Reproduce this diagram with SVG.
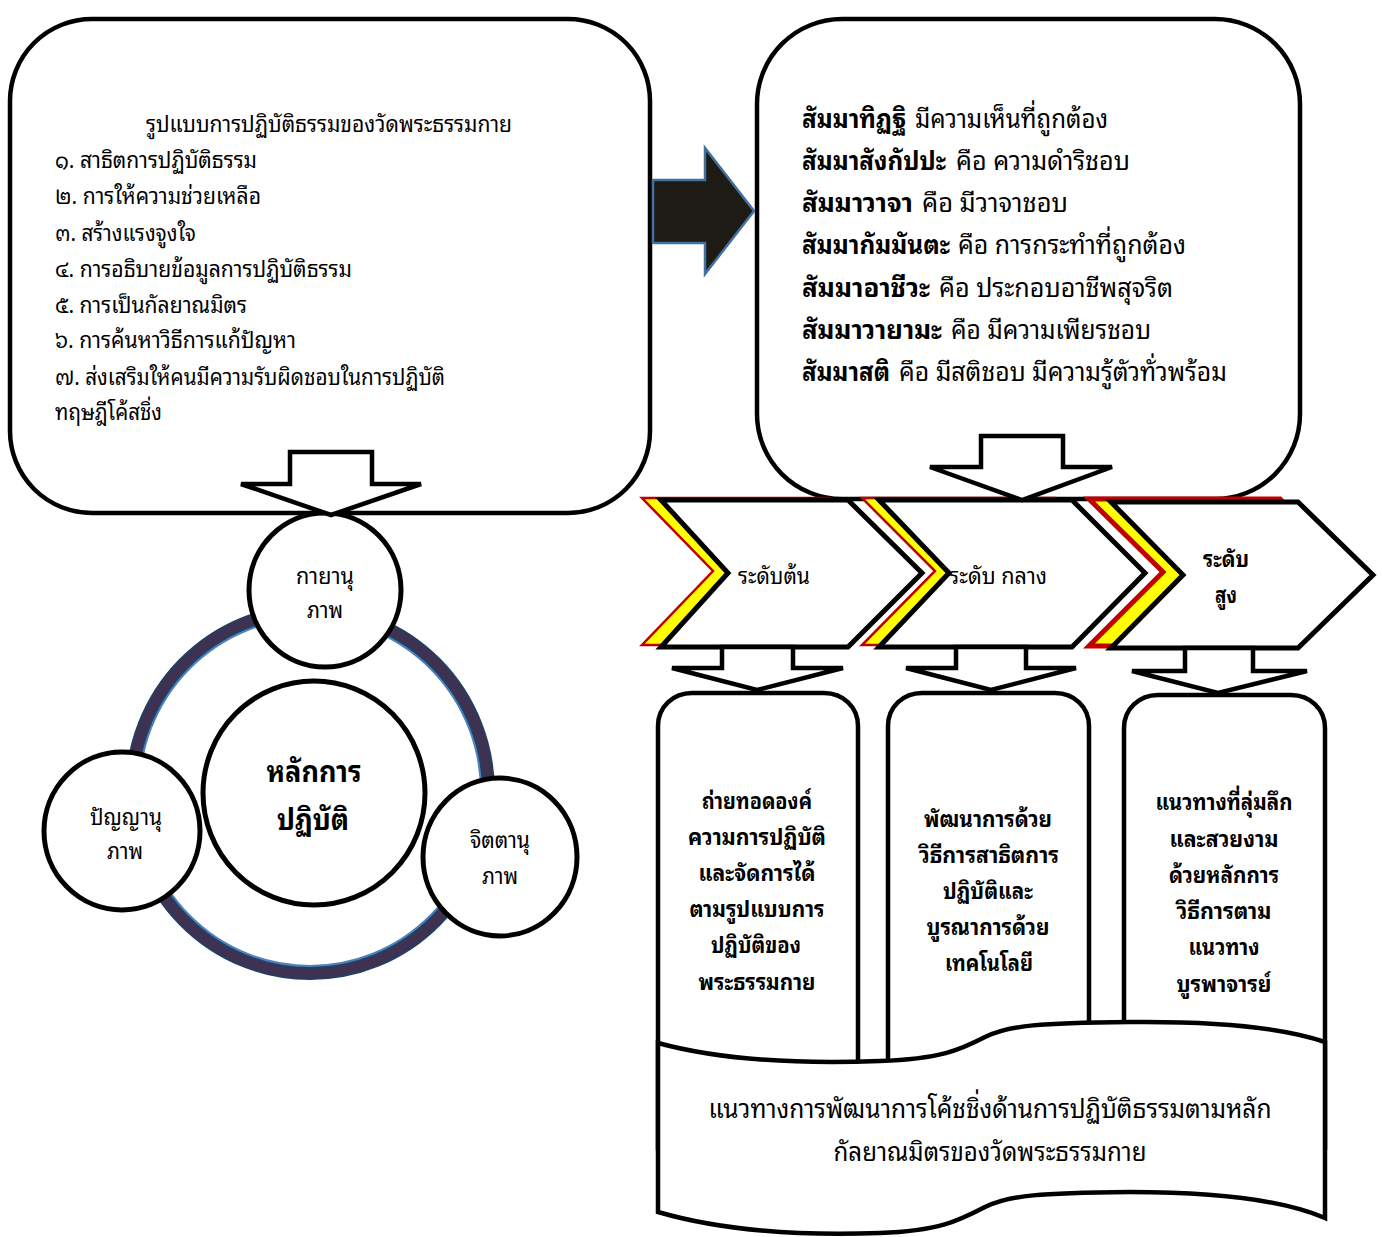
<svg xmlns="http://www.w3.org/2000/svg" width="1382" height="1237" viewBox="0 0 1382 1237">
<style>
  text { font-family: "Noto Sans Thai Looped", "Loma", "Garuda", "Noto Sans Thai", "Noto Sans", "DejaVu Sans", sans-serif; fill: #000; }
  .box { fill: #fff; stroke: #000; stroke-width: 4.5; }
  .arr { fill: #fff; stroke: #000; stroke-width: 4.5; stroke-linejoin: miter; }
  .cir { fill: #fff; stroke: #000; stroke-width: 5; }
  .chev { fill: #fff; stroke: #000; stroke-width: 5; stroke-linejoin: miter; }
  .chevc { fill: #ffff00; stroke: #c00000; stroke-width: 2.5; }
  .t20 { font-size: 22px; }
  .t24 { font-size: 26px; }
  .b { font-weight: bold; }
  .mid { text-anchor: middle; }
</style>
<rect width="1382" height="1237" fill="#fff"/>

<g id="box-practice">
  <rect class="box" x="10" y="19" width="640" height="494" rx="82" ry="82"/>
  <text class="t20 mid" x="329" y="132" textLength="366" lengthAdjust="spacingAndGlyphs">รูปแบบการปฏิบัติธรรมของวัดพระธรรมกาย</text>
  <text class="t20" x="55" y="168" textLength="202" lengthAdjust="spacingAndGlyphs">๑. สาธิตการปฏิบัติธรรม</text>
  <text class="t20" x="55" y="204" textLength="206" lengthAdjust="spacingAndGlyphs">๒. การให้ความช่วยเหลือ</text>
  <text class="t20" x="55" y="241" textLength="141" lengthAdjust="spacingAndGlyphs">๓. สร้างแรงจูงใจ</text>
  <text class="t20" x="55" y="277" textLength="297" lengthAdjust="spacingAndGlyphs">๔. การอธิบายข้อมูลการปฏิบัติธรรม</text>
  <text class="t20" x="55" y="313" textLength="192" lengthAdjust="spacingAndGlyphs">๕. การเป็นกัลยาณมิตร</text>
  <text class="t20" x="55" y="348" textLength="241" lengthAdjust="spacingAndGlyphs">๖. การค้นหาวิธีการแก้ปัญหา</text>
  <text class="t20" x="55" y="385" textLength="390" lengthAdjust="spacingAndGlyphs">๗. ส่งเสริมให้คนมีความรับผิดชอบในการปฏิบัติ</text>
  <text class="t20" x="55" y="420" textLength="107" lengthAdjust="spacingAndGlyphs">ทฤษฎีโค้สชิ่ง</text>
</g>

<g id="box-path">
  <rect class="box" x="757" y="19" width="543" height="480" rx="85" ry="85"/>
  <text class="t24 b" x="802" y="128" textLength="104" lengthAdjust="spacingAndGlyphs">สัมมาทิฏฐิ</text>
  <text class="t24" x="915" y="128" textLength="193" lengthAdjust="spacingAndGlyphs">มีความเห็นที่ถูกต้อง</text>
  <text class="t24 b" x="802" y="170" textLength="144" lengthAdjust="spacingAndGlyphs">สัมมาสังกัปปะ</text>
  <text class="t24" x="956" y="170" textLength="174" lengthAdjust="spacingAndGlyphs">คือ ความดำริชอบ</text>
  <text class="t24 b" x="802" y="212" textLength="111" lengthAdjust="spacingAndGlyphs">สัมมาวาจา</text>
  <text class="t24" x="922" y="212" textLength="146" lengthAdjust="spacingAndGlyphs">คือ มีวาจาชอบ</text>
  <text class="t24 b" x="802" y="254" textLength="148" lengthAdjust="spacingAndGlyphs">สัมมากัมมันตะ</text>
  <text class="t24" x="958" y="254" textLength="228" lengthAdjust="spacingAndGlyphs">คือ การกระทำที่ถูกต้อง</text>
  <text class="t24 b" x="802" y="297" textLength="128" lengthAdjust="spacingAndGlyphs">สัมมาอาชีวะ</text>
  <text class="t24" x="939" y="297" textLength="234" lengthAdjust="spacingAndGlyphs">คือ ประกอบอาชีพสุจริต</text>
  <text class="t24 b" x="802" y="339" textLength="140" lengthAdjust="spacingAndGlyphs">สัมมาวายามะ</text>
  <text class="t24" x="951" y="339" textLength="200" lengthAdjust="spacingAndGlyphs">คือ มีความเพียรชอบ</text>
  <text class="t24 b" x="802" y="381" textLength="88" lengthAdjust="spacingAndGlyphs">สัมมาสติ</text>
  <text class="t24" x="899" y="381" textLength="328" lengthAdjust="spacingAndGlyphs">คือ มีสติชอบ มีความรู้ตัวทั่วพร้อม</text>
</g>

<g id="ring">
  <ellipse cx="310" cy="792" rx="178" ry="181" fill="none" stroke="#243f60" stroke-width="14"/>
  <ellipse cx="310" cy="792" rx="178.5" ry="181.5" fill="none" stroke="#3f3151" stroke-width="9"/>
  <ellipse cx="310" cy="792" rx="171" ry="174" fill="none" stroke="#4f81bd" stroke-width="2"/>
</g>

<g id="circle-kaya">
  <ellipse class="cir" cx="325" cy="590" rx="76" ry="77"/>
  <text class="t20 mid" x="325" y="584" textLength="58" lengthAdjust="spacingAndGlyphs">กายานุ</text>
  <text class="t20 mid" x="325" y="618" textLength="36" lengthAdjust="spacingAndGlyphs">ภาพ</text>
</g>
<g id="circle-center">
  <ellipse class="cir" cx="314" cy="793" rx="111" ry="112"/>
  <text class="b mid" style="font-size:30px" x="314" y="782" textLength="95" lengthAdjust="spacingAndGlyphs">หลักการ</text>
  <text class="b mid" style="font-size:30px" x="313" y="830" textLength="72" lengthAdjust="spacingAndGlyphs">ปฏิบัติ</text>
</g>
<g id="circle-panya">
  <ellipse class="cir" cx="122" cy="831" rx="78" ry="79"/>
  <text class="t20 mid" x="126" y="825" textLength="72" lengthAdjust="spacingAndGlyphs">ปัญญานุ</text>
  <text class="t20 mid" x="125" y="859" textLength="36" lengthAdjust="spacingAndGlyphs">ภาพ</text>
</g>
<g id="circle-citta">
  <ellipse class="cir" cx="500" cy="857" rx="77" ry="79"/>
  <text class="t20 mid" x="500" y="848" textLength="60" lengthAdjust="spacingAndGlyphs">จิตตานุ</text>
  <text class="t20 mid" x="500" y="884" textLength="36" lengthAdjust="spacingAndGlyphs">ภาพ</text>
</g>

<g id="chevron-1">
  <polygon class="chevc" points="642,498 830,498 900,571 830,645 642,645 713,571"/>
  <polygon class="chev" points="661,500 848,500 922,573 848,647 661,647 728,573"/>
  <text class="t20" x="738" y="584" textLength="72" lengthAdjust="spacingAndGlyphs">ระดับต้น</text>
</g>
<g id="chevron-2">
  <polygon class="chevc" points="862,498 1055,498 1125,571 1055,645 862,645 935,571"/>
  <polygon class="chev" points="879,500 1072,500 1145,573 1072,647 879,647 949,573"/>
  <text class="t20" x="949" y="584" textLength="98" lengthAdjust="spacingAndGlyphs">ระดับ กลาง</text>
</g>
<g id="chevron-3">
  <polygon class="chevc" style="stroke-width:5" points="1089,499 1280,499 1352,572 1280,646 1089,646 1163,572"/>
  <polygon class="chev" points="1111,502 1298,502 1373,575 1298,648 1111,648 1183,575"/>
  <text class="t20 b mid" x="1226" y="567" textLength="46" lengthAdjust="spacingAndGlyphs">ระดับ</text>
  <text class="t20 b mid" x="1226" y="603" textLength="22" lengthAdjust="spacingAndGlyphs">สูง</text>
</g>

<g id="box-basic">
  <path class="box" d="M658,1150 V726 C658,707 673,693 692,693 H824 C843,693 858,707 858,726 V1150"/>
  <text class="t20 b mid" x="757" y="809" textLength="110" lengthAdjust="spacingAndGlyphs">ถ่ายทอดองค์</text>
  <text class="t20 b mid" x="757" y="845" textLength="138" lengthAdjust="spacingAndGlyphs">ความการปฏิบัติ</text>
  <text class="t20 b mid" x="757" y="881" textLength="117" lengthAdjust="spacingAndGlyphs">และจัดการได้</text>
  <text class="t20 b mid" x="757" y="917" textLength="135" lengthAdjust="spacingAndGlyphs">ตามรูปแบบการ</text>
  <text class="t20 b mid" x="756" y="953" textLength="90" lengthAdjust="spacingAndGlyphs">ปฏิบัติของ</text>
  <text class="t20 b mid" x="757" y="990" textLength="117" lengthAdjust="spacingAndGlyphs">พระธรรมกาย</text>
</g>
<g id="box-middle">
  <path class="box" d="M888,1150 V726 C888,707 903,693 922,693 H1055 C1074,693 1089,707 1089,726 V1150"/>
  <text class="t20 b mid" x="988" y="827" textLength="128" lengthAdjust="spacingAndGlyphs">พัฒนาการด้วย</text>
  <text class="t20 b mid" x="989" y="863" textLength="140" lengthAdjust="spacingAndGlyphs">วิธีการสาธิตการ</text>
  <text class="t20 b mid" x="988" y="899" textLength="90" lengthAdjust="spacingAndGlyphs">ปฏิบัติและ</text>
  <text class="t20 b mid" x="988" y="935" textLength="123" lengthAdjust="spacingAndGlyphs">บูรณาการด้วย</text>
  <text class="t20 b mid" x="989" y="971" textLength="88" lengthAdjust="spacingAndGlyphs">เทคโนโลยี</text>
</g>
<g id="box-high">
  <path class="box" d="M1124,1150 V728 C1124,709 1139,695 1158,695 H1291 C1310,695 1325,709 1325,728 V1150"/>
  <text class="t20 b mid" x="1224" y="810" textLength="137" lengthAdjust="spacingAndGlyphs">แนวทางที่ลุ่มลึก</text>
  <text class="t20 b mid" x="1224" y="847" textLength="109" lengthAdjust="spacingAndGlyphs">และสวยงาม</text>
  <text class="t20 b mid" x="1224" y="883" textLength="110" lengthAdjust="spacingAndGlyphs">ด้วยหลักการ</text>
  <text class="t20 b mid" x="1224" y="919" textLength="95" lengthAdjust="spacingAndGlyphs">วิธีการตาม</text>
  <text class="t20 b mid" x="1224" y="955" textLength="71" lengthAdjust="spacingAndGlyphs">แนวทาง</text>
  <text class="t20 b mid" x="1224" y="992" textLength="95" lengthAdjust="spacingAndGlyphs">บูรพาจารย์</text>
</g>

<g id="doc-guideline">
  <path class="box" d="M658,1043 C720,1060 800,1064 880,1061 C940,1059 960,1050 985,1037 C1010,1025 1040,1023 1130,1022 C1230,1021 1290,1030 1325,1042 L1325,1218 C1290,1203 1230,1192 1130,1192 C1040,1193 1010,1195 985,1207 C960,1220 940,1231 880,1233 C800,1236 720,1230 658,1212 Z"/>
  <text class="mid" style="font-size:27px" x="990" y="1118" textLength="563" lengthAdjust="spacingAndGlyphs">แนวทางการพัฒนาการโค้ชชิ่งด้านการปฏิบัติธรรมตามหลัก</text>
  <text class="mid" style="font-size:27px" x="990" y="1161" textLength="313" lengthAdjust="spacingAndGlyphs">กัลยาณมิตรของวัดพระธรรมกาย</text>
</g>

<g id="connectors">
  <polygon points="653,180 705,180 705,148 754,211 705,274 705,243 653,243" fill="#1e1b16" stroke="#41719c" stroke-width="2.5"/>
  <polygon class="arr" points="290,452 372,452 372,484 421,484 331,515 241,484 290,484"/>
  <polygon class="arr" points="981,436 1063,436 1063,467 1112,467 1022,500 930,467 981,467"/>
  <polygon class="arr" points="722,647 793,647 793,668 843,668 757,690 672,668 722,668"/>
  <polygon class="arr" points="956,647 1026,647 1026,668 1076,668 991,690 906,668 956,668"/>
  <polygon class="arr" points="1185,648 1253,648 1253,671 1307,671 1218,693 1132,671 1185,671"/>
</g>
</svg>
